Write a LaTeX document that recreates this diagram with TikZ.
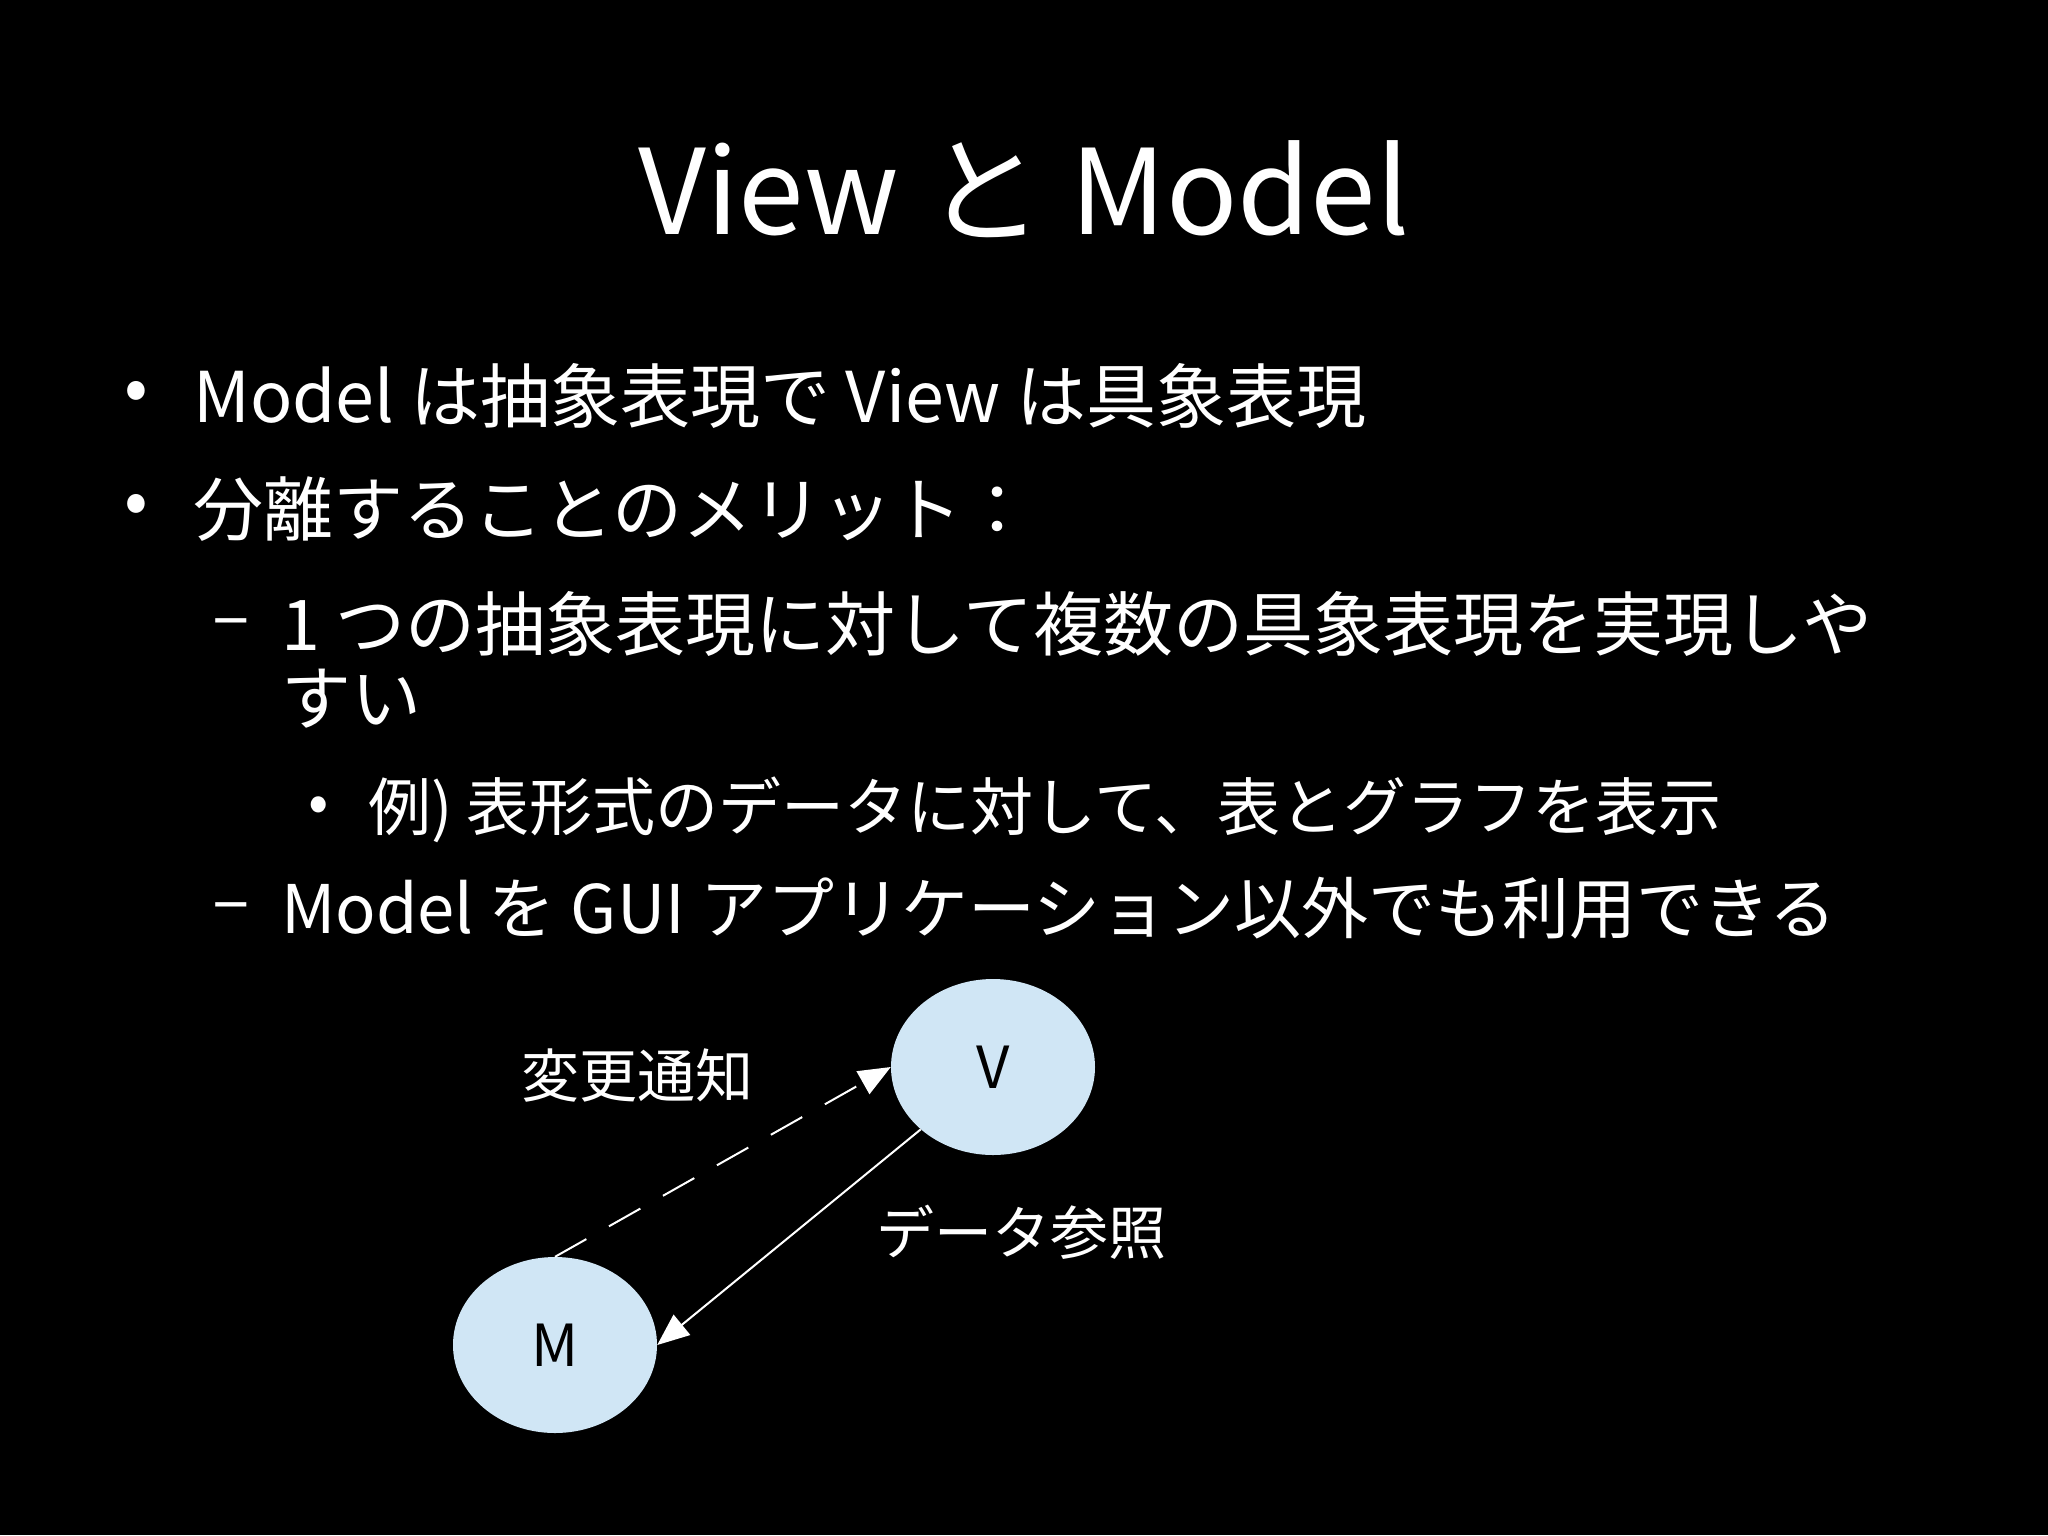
\documentclass[tikz,border=0pt]{standalone}
\usepackage{fontspec}
\setmainfont{Noto Sans CJK JP}
\usetikzlibrary{arrows.meta,shapes.geometric}
\begin{document}
\begin{tikzpicture}[x=1pt,y=-1pt,
  txt/.style={text=white,anchor=west,inner sep=0},
  ell/.style={ellipse,fill={rgb,255:red,208;green,230;blue,245},minimum width=204pt,minimum height=176pt,inner sep=0,font=\fontsize{58}{60}\selectfont},
  conn/.style={white,line width=2pt,-{Triangle[open,fill=white,length=32pt,width=26pt]}}]
\fill[black] (0,0) rectangle (2048,1535);
\useasboundingbox (0,0) rectangle (2048,1535);
\node[text=white,font=\fontsize{118}{120}\selectfont] (title) at (1024,189) {View と Model};
\begin{scope}[font=\fontsize{70}{80}\selectfont]
\node[txt] (b1) at (124,396) {•};
\node[txt] (t1) at (193,396) {Model は抽象表現で View は具象表現};
\node[txt] (b2) at (124,509) {•};
\node[txt] (t2) at (193,509) {分離することのメリット：};
\node[txt] (d1) at (212,630) {–};
\node[txt] (t3) at (281,624) {1 つの抽象表現に対して複数の具象表現を実現しや};
\node[txt] (t4) at (281,699) {すい};
\node[txt] (d2) at (212,914) {–};
\node[txt,font=\fontsize{67}{80}\selectfont] (t6) at (281,908) {Model を GUI アプリケーション以外でも利用できる};
\end{scope}
\node[txt,font=\fontsize{60}{70}\selectfont] (b3) at (308,810) {•};
\node[txt,font=\fontsize{63}{70}\selectfont] (t5) at (368,810) {例) 表形式のデータに対して、表とグラフを表示};
\node[ell] (V) at (993,1067) {V};
\node[ell] (M) at (555,1345) {M};
\node[text=white,font=\fontsize{58}{60}\selectfont] (l1) at (637,1075) {変更通知};
\node[text=white,font=\fontsize{58}{60}\selectfont] (l2) at (1021,1232) {データ参照};
\draw[conn,dash pattern=on 36pt off 26pt] (M.north) -- (V.west);
\draw[conn] (V.south west) -- (M.east);
\end{tikzpicture}
\end{document}
